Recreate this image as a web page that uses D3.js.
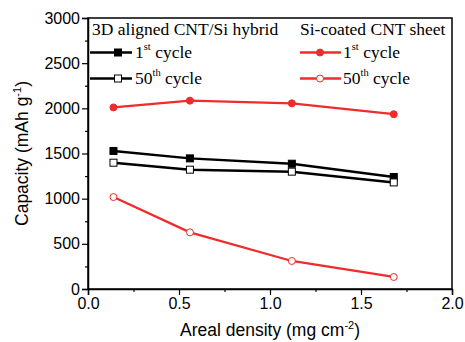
<!DOCTYPE html>
<html>
<head>
<meta charset="utf-8">
<script src="https://cdn.jsdelivr.net/npm/d3@7"></script>
<style>
body { margin: 0; background: #fff; }
svg { display: block; }
</style>
</head>
<body>
<script>
// areal density (mg cm-2)
var density = [0.14, 0.56, 1.12, 1.68];
// 3D aligned CNT/Si hybrid
var hybrid1st = [1528, 1446, 1387, 1240];
var hybrid50th = [1398, 1321, 1299, 1180];
// Si-coated CNT sheet
var sheet1st = [2010, 2085, 2055, 1935];
var sheet50th = [1018, 627, 310, 133];

var xTicks = [0, 0.5, 1.0, 1.5, 2.0];
var yTicks = [0, 500, 1000, 1500, 2000, 2500, 3000];

var width = 465, height = 342;
var plotL = 88, plotR = 452, plotT = 18, plotB = 289;
var red = "#ee2c2c";

var svg = d3.select("body").append("svg").attr("width", width).attr("height", height);

var x = d3.scaleLinear().domain([0, 2]).range([plotL, plotR]);
var y = d3.scaleLinear().domain([0, 3000]).range([plotB, plotT]);

// frame
svg.append("rect").attr("x", plotL).attr("y", plotT)
  .attr("width", plotR - plotL).attr("height", plotB - plotT)
  .attr("fill", "none").attr("stroke", "#000").attr("stroke-width", 1.5);

// x axis
svg.append("g").attr("transform", "translate(0," + plotB + ")")
  .call(d3.axisBottom(x).tickValues(xTicks).tickFormat(d3.format(".1f")).tickSize(6).tickPadding(3));
svg.append("g").attr("transform", "translate(0," + plotB + ")")
  .call(d3.axisBottom(x).tickValues(d3.range(0.25, 2, 0.5)).tickFormat("").tickSize(3))
  .select(".domain").remove();

// y axis
svg.append("g").attr("transform", "translate(" + plotL + ",0)")
  .call(d3.axisLeft(y).tickValues(yTicks).tickFormat(d3.format("d")).tickSize(6).tickPadding(2));
svg.append("g").attr("transform", "translate(" + plotL + ",0)")
  .call(d3.axisLeft(y).tickValues(d3.range(250, 3000, 500)).tickFormat("").tickSize(3))
  .select(".domain").remove();

svg.selectAll(".domain").attr("stroke-width", 1.5);
svg.selectAll(".tick line").attr("stroke-width", 1.2);
svg.selectAll(".tick text").attr("font-family", "Liberation Sans, Arial, sans-serif")
  .attr("font-size", 16).attr("fill", "#000");

// axis titles
var xt = svg.append("text").attr("x", (plotL + plotR) / 2).attr("y", 336)
  .attr("text-anchor", "middle").attr("font-family", "Liberation Sans, Arial, sans-serif")
  .attr("font-size", 17.5);
xt.append("tspan").text("Areal density (mg cm");
xt.append("tspan").attr("font-size", 11).attr("dy", -7).text("-2");
xt.append("tspan").attr("dy", 7).text(")");

var yt = svg.append("text").attr("transform", "translate(28," + (plotT + plotB) / 2 + ") rotate(-90)")
  .attr("text-anchor", "middle").attr("font-family", "Liberation Sans, Arial, sans-serif")
  .attr("font-size", 17.5);
yt.append("tspan").text("Capacity (mAh g");
yt.append("tspan").attr("font-size", 11).attr("dy", -7).text("-1");
yt.append("tspan").attr("dy", 7).text(")");

var line = d3.line().x(function(d) { return x(d[0]); }).y(function(d) { return y(d[1]); });

var series = [
  { vals: sheet1st, color: red, width: 2.3, shape: "circle", fill: red },
  { vals: sheet50th, color: red, width: 2.3, shape: "circle", fill: "#fff" },
  { vals: hybrid1st, color: "#000", width: 2.5, shape: "square", fill: "#000" },
  { vals: hybrid50th, color: "#000", width: 2.5, shape: "square", fill: "#fff" }
];

function drawMarker(g, shape, cx, cy, color, fill) {
  if (shape == "circle") {
    g.append("circle").attr("cx", cx).attr("cy", cy).attr("r", 3.5)
      .attr("fill", fill).attr("stroke", color).attr("stroke-width", 1);
  } else {
    g.append("rect").attr("x", cx - 3.5).attr("y", cy - 3.5).attr("width", 7).attr("height", 7)
      .attr("fill", fill).attr("stroke", color).attr("stroke-width", 1);
  }
}

series.forEach(function(s) {
  var pts = density.map(function(d, i) { return [d, s.vals[i]]; });
  svg.append("path").attr("d", line(pts)).attr("fill", "none")
    .attr("stroke", s.color).attr("stroke-width", s.width);
  var g = svg.append("g");
  pts.forEach(function(p) { drawMarker(g, s.shape, x(p[0]), y(p[1]), s.color, s.fill); });
});

// legend
var serif = "Liberation Serif, Times New Roman, serif";
svg.append("text").attr("x", 92).attr("y", 35).attr("font-family", serif).attr("font-size", 17.5)
  .text("3D aligned CNT/Si hybrid");
svg.append("text").attr("x", 300).attr("y", 35).attr("font-family", serif).attr("font-size", 17.5)
  .text("Si-coated CNT sheet");

var legendRows = [
  { x0: 90, x1: 132, mx: 118, tx: 135, y: 52.5, color: "#000", w: 2.5, shape: "square", fill: "#000", num: "1", sup: "st" },
  { x0: 90, x1: 132, mx: 118, tx: 135, y: 78.5, color: "#000", w: 2.5, shape: "square", fill: "#fff", num: "50", sup: "th" },
  { x0: 300, x1: 341, mx: 320, tx: 343, y: 52.5, color: red, w: 2.3, shape: "circle", fill: red, num: "1", sup: "st" },
  { x0: 300, x1: 341, mx: 320, tx: 343, y: 78.5, color: red, w: 2.3, shape: "circle", fill: "#fff", num: "50", sup: "th" }
];
legendRows.forEach(function(r) {
  svg.append("line").attr("x1", r.x0).attr("x2", r.x1).attr("y1", r.y).attr("y2", r.y)
    .attr("stroke", r.color).attr("stroke-width", r.w);
  drawMarker(svg, r.shape, r.mx, r.y, r.color, r.fill);
  var t = svg.append("text").attr("x", r.tx).attr("y", r.y + 5).attr("font-family", serif).attr("font-size", 17.5);
  t.append("tspan").text(r.num);
  t.append("tspan").attr("font-size", 10.5).attr("dy", -8).text(r.sup);
  t.append("tspan").attr("dy", 8).text(" cycle");
});
</script>
</body>
</html>
